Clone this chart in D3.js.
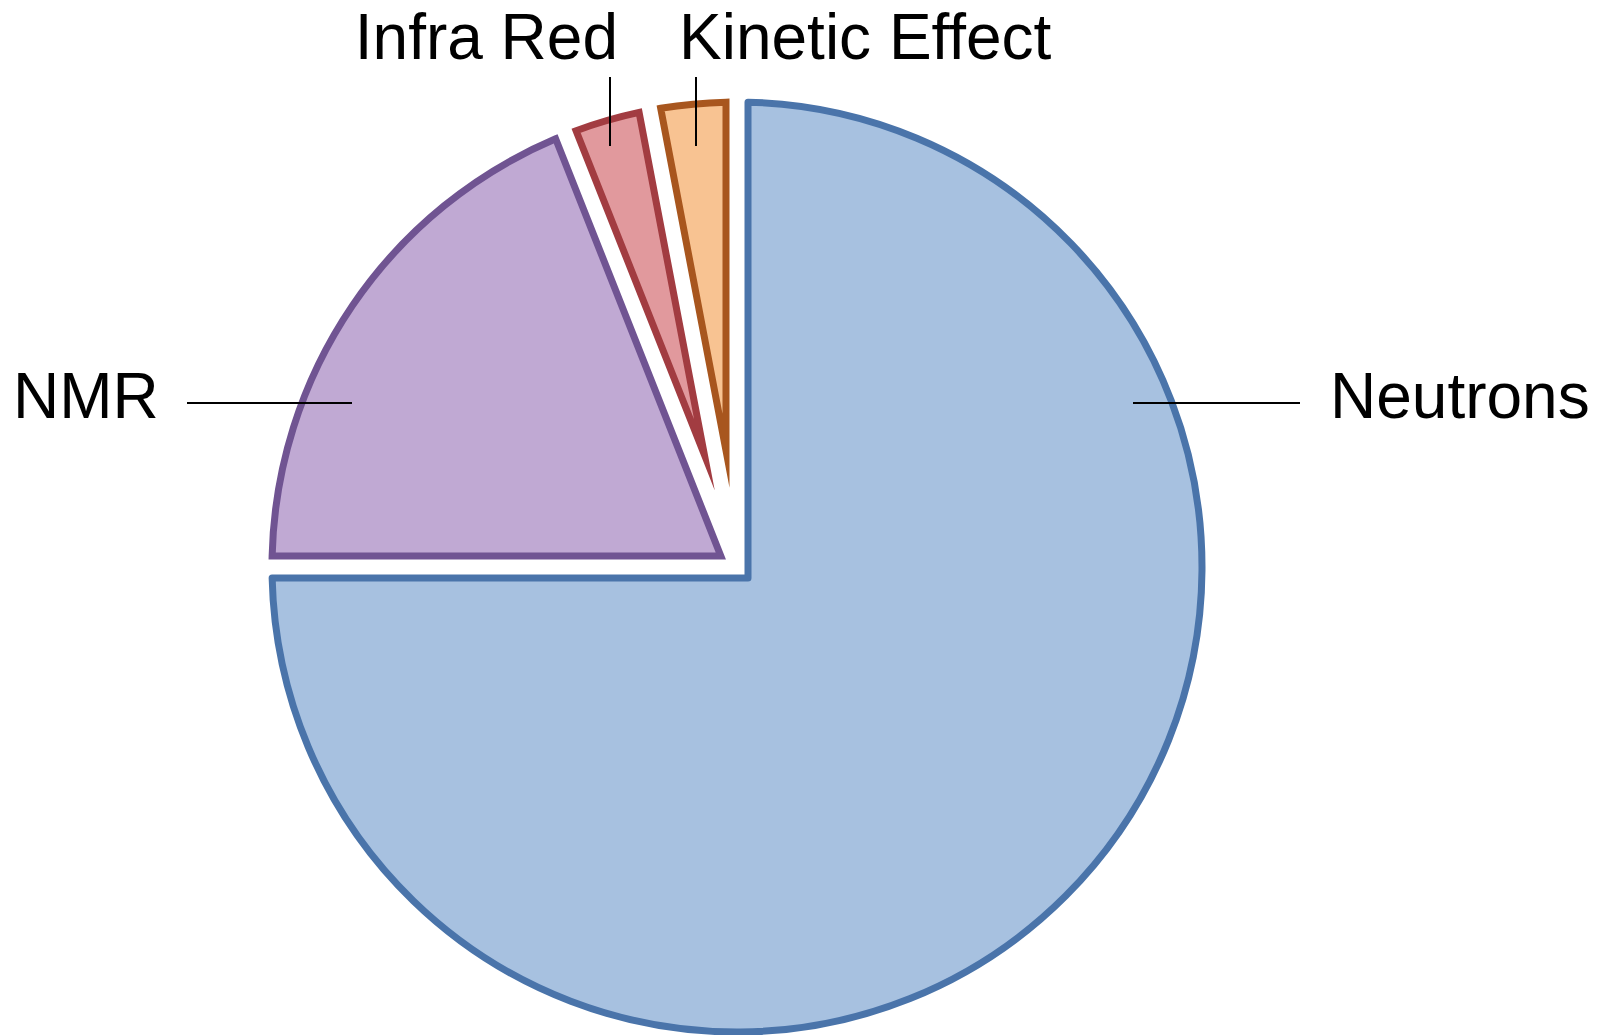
<!DOCTYPE html>
<meta charset="utf-8">
<style>
    body {
        margin: 0;
        background: #fff;
    }

    text {
        font-family: "Liberation Sans", Arial, sans-serif;
        font-size: 64px;
        fill: #000;
    }

    path.leader {
        stroke: #000;
        stroke-width: 2;
        fill: none;
    }

    path.slice {
        stroke-width: 7;
        stroke-miterlimit: 14;
    }
</style>
<body>
<script src="https://cdn.jsdelivr.net/npm/d3@7/dist/d3.min.js"></script>
<script>

    var categories = ["Neutrons", "NMR", "Infra Red", "Kinetic Effect"];
    var values = [75, 19, 3, 3];
    var fills = ["#A7C1E0", "#C0A9D3", "#E1999D", "#F8C392"];
    var strokes = ["#4A74AA", "#705492", "#A23C41", "#A8561E"];

    var width = 1609,
        height = 1035,
        cx = 737,
        cy = 567,
        radius = 465,
        gap = 11;

    // label placement: [x, y, anchor] and leader line [x1, y1, x2, y2]
    var labelPos = [
        [1330, 418, "start"],
        [13, 418, "start"],
        [618, 59, "end"],
        [679, 59, "start"]
    ];
    var leaders = [
        [1133, 403, 1300, 403],
        [187, 403, 352, 403],
        [610, 77, 610, 146],
        [696, 77, 696, 146]
    ];

    var svg = d3.select("body").append("svg")
            .attr("width", width)
            .attr("height", height);

    var pie = d3.pie()
            .sort(null)
            .value(function(d) { return d; });

    var arcs = pie(values);

    // slice with parallel gaps: edges offset by `gap` from the radial lines
    function slicePath(s) {
        var th = s.endAngle - s.startAngle,
            m = (s.startAngle + s.endAngle) / 2,
            ra = gap / Math.sin(th / 2),
            da = Math.asin(gap / radius),
            p = d3.path();
        p.moveTo(ra * Math.sin(m), -ra * Math.cos(m));
        p.arc(0, 0, radius, s.startAngle + da - Math.PI / 2, s.endAngle - da - Math.PI / 2);
        p.closePath();
        return p.toString();
    }

    var g = svg.append("g")
            .attr("transform", "translate(" + cx + "," + cy + ")");

    g.selectAll("path.slice")
            .data(arcs)
        .enter().append("path")
            .attr("class", "slice")
            .attr("d", slicePath)
            .attr("fill", function(d, i) { return fills[i]; })
            .attr("stroke", function(d, i) { return strokes[i]; })
            .attr("stroke-linejoin", function(d, i) { return i === 0 ? "round" : "miter"; });

    svg.selectAll("path.leader")
            .data(leaders)
        .enter().append("path")
            .attr("class", "leader")
            .attr("d", function(l) { return "M" + l[0] + "," + l[1] + "L" + l[2] + "," + l[3]; });

    svg.selectAll("text.label")
            .data(categories)
        .enter().append("text")
            .attr("class", "label")
            .attr("x", function(d, i) { return labelPos[i][0]; })
            .attr("y", function(d, i) { return labelPos[i][1]; })
            .attr("text-anchor", function(d, i) { return labelPos[i][2]; })
            .text(function(d) { return d; });

</script>
